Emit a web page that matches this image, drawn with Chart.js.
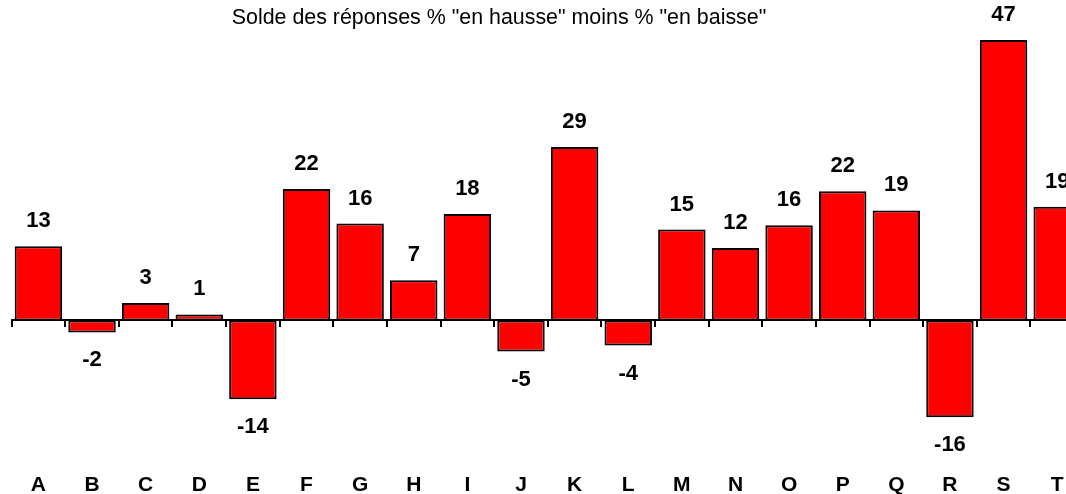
<!DOCTYPE html>
<html>
<head>
<meta charset="utf-8">
<script src="https://cdn.jsdelivr.net/npm/chart.js@4"></script>
<style>
    html, body { margin: 0; padding: 0; background: #fff; overflow: hidden; }
    #wrap { width: 1066px; height: 494px; overflow: hidden; }
</style>
</head>
<body>
<div id="wrap"><canvas id="soldeChart" width="1100" height="494"></canvas></div>
<script>
// Data
const categories = ['A', 'B', 'C', 'D', 'E', 'F', 'G', 'H', 'I', 'J', 'K', 'L', 'M', 'N', 'O', 'P', 'Q', 'R', 'S', 'T'];
const soldeValues = [12.4, -2, 2.9, 1, -13.2, 22, 16.2, 6.7, 17.8, -5.2, 29, -4.2, 15.2, 12.1, 15.9, 21.6, 18.4, -16.2, 46.9, 19];
const soldeLabels = ['13', '-2', '3', '1', '-14', '22', '16', '7', '18', '-5', '29', '-4', '15', '12', '16', '22', '19', '-16', '47', '19'];
const chartTitle = 'Solde des réponses % "en hausse" moins % "en baisse"';

const FONT = '"Liberation Sans", Arial, Helvetica, sans-serif';

/**
 * Value labels above / below each bar
 */
const valueLabelsPlugin = {
    id: 'valueLabels',
    afterDatasetsDraw(chart) {
        const ctx = chart.ctx;
        const meta = chart.getDatasetMeta(0);
        ctx.save();
        ctx.font = 'bold 22px ' + FONT;
        ctx.fillStyle = '#000';
        ctx.textAlign = 'center';
        ctx.textBaseline = 'alphabetic';
        meta.data.forEach((bar, i) => {
            const v = soldeValues[i];
            if (v >= 0) {
                ctx.fillText(soldeLabels[i], bar.x, bar.y - 19);
            } else {
                ctx.fillText(soldeLabels[i], bar.x, bar.y + 34);
            }
        });
        ctx.restore();
    }
};

/**
 * Title drawn at a fixed spot (original was off-centre)
 */
const titlePlugin = {
    id: 'fixedTitle',
    afterDraw(chart) {
        const ctx = chart.ctx;
        ctx.save();
        ctx.font = '21.4px ' + FONT;
        ctx.fillStyle = '#000';
        ctx.textAlign = 'center';
        ctx.textBaseline = 'middle';
        ctx.fillText(chartTitle, 499, 18);
        ctx.restore();
    }
};

const ctx = document.getElementById('soldeChart').getContext('2d');

new Chart(ctx, {
    type: 'bar',
    data: {
        labels: categories,
        datasets: [{
            data: soldeValues,
            xAxisID: 'x',
            yAxisID: 'y',
            backgroundColor: '#ff0000',
            borderColor: '#000000',
            borderWidth: 2,
            borderSkipped: false,
            barPercentage: 0.885,
            categoryPercentage: 1
        }]
    },
    options: {
        responsive: false,
        animation: false,
        layout: {
            padding: { left: 11.6, right: 16, top: 21.5, bottom: 0 }
        },
        plugins: {
            legend: { display: false },
            title: { display: false },
            tooltip: { enabled: false }
        },
        scales: {
            y: {
                display: false,
                min: -20,
                max: 50
            },
            x: {
                type: 'category',
                position: { y: 0 },
                offset: true,
                afterFit: (scale) => { scale.height = 0; },
                ticks: { display: false },
                grid: {
                    display: true,
                    offset: true,
                    drawOnChartArea: false,
                    drawTicks: true,
                    tickLength: 6,
                    color: '#000',
                    lineWidth: 2
                },
                border: { display: true, color: '#000', width: 2 }
            },
            x2: {
                type: 'category',
                position: 'bottom',
                offset: true,
                afterFit: (scale) => { scale.height = 54; },
                grid: { display: false },
                border: { display: false },
                ticks: {
                    color: '#000',
                    font: { family: FONT, size: 21, weight: 'bold' },
                    padding: 25,
                    maxRotation: 0,
                    autoSkip: false
                }
            }
        }
    },
    plugins: [valueLabelsPlugin, titlePlugin]
});
</script>
</body>
</html>
